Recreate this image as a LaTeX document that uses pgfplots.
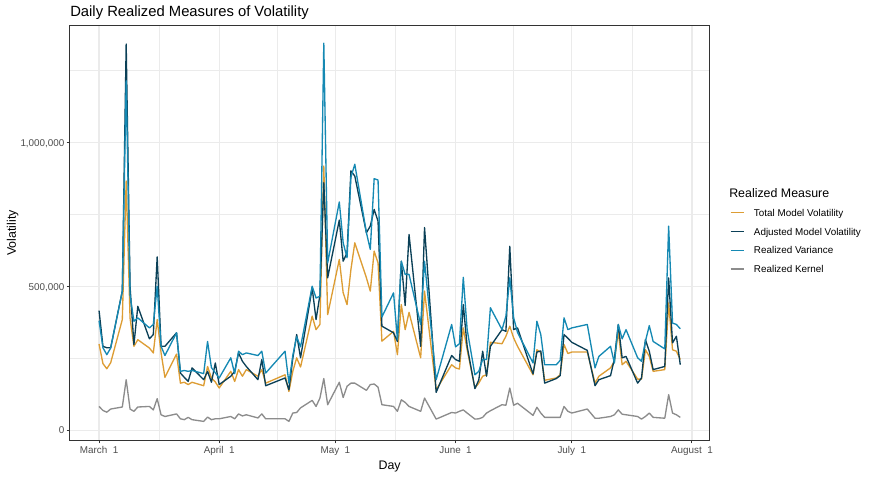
\documentclass[border=0pt]{standalone}
\usepackage{pgfplots}
\pgfplotsset{compat=1.18}
\usepackage{pgfplotstable}
\usepackage{fontspec}
\setmainfont{Liberation Sans}
\definecolor{totalc}{RGB}{221,157,52}
\definecolor{adjc}{RGB}{11,64,87}
\definecolor{rvc}{RGB}{21,137,179}
\definecolor{kc}{RGB}{140,140,140}
\definecolor{gtwenty}{RGB}{51,51,51}
\definecolor{gthirty}{RGB}{77,77,77}
\definecolor{gridc}{RGB}{235,235,235}

\pgfplotstableread{
d T A R K
0 300000 416000 381000 83000
1 232000 292000 287000 69000
2 214000 287000 263000 63000
3 235000 287000 286000 74000
6 385000 484000 484000 81000
7 867000 1343000 1215000 176000
8 390000 500000 470000 74000
9 292000 298000 379000 66000
10 315000 431000 391000 81000
13 286000 318000 356000 83000
14 269000 333000 368000 71000
15 385000 603000 501000 110000
16 270000 292000 292000 54000
17 184000 292000 260000 48000
20 265000 339000 339000 57000
21 164000 199000 205000 40000
22 167000 184000 208000 37000
23 159000 170000 205000 45000
24 167000 217000 208000 37000
27 155000 176000 197000 31000
28 222000 205000 309000 46000
29 182000 167000 218000 37000
30 168000 234000 200000 40000
31 147000 159000 182000 40000
34 205000 188000 252000 48000
35 170000 205000 197000 40000
36 211000 269000 275000 57000
37 188000 240000 263000 50000
38 211000 222000 269000 54000
41 188000 176000 260000 43000
42 211000 246000 275000 57000
43 164000 155000 199000 40000
48 193000 182000 275000 40000
49 135000 141000 164000 31000
50 205000 250000 260000 60000
51 252000 333000 325000 62000
52 220000 252000 290000 78000
55 397000 495000 501000 104000
56 350000 385000 460000 83000
57 368000 470000 466000 112000
58 919000 861000 1346000 180000
59 402000 530000 582000 89000
62 594000 731000 794000 167000
63 478000 588000 652000 114000
64 437000 617000 600000 153000
65 559000 902000 880000 164000
66 652000 884000 925000 164000
69 530000 687000 687000 139000
70 484000 710000 629000 159000
71 623000 768000 875000 161000
72 582000 727000 870000 150000
73 310000 362000 394000 89000
76 344000 339000 478000 83000
77 263000 309000 315000 66000
78 437000 588000 588000 106000
79 350000 434000 542000 97000
80 410000 681000 542000 83000
83 252000 292000 368000 66000
84 484000 705000 588000 112000
87 141000 132000 176000 39000
91 228000 260000 368000 62000
92 217000 246000 290000 60000
93 213000 240000 301000 66000
94 356000 437000 532000 71000
95 280000 292000 350000 60000
97 147000 145000 193000 39000
98 164000 175000 205000 40000
99 188000 275000 246000 45000
100 193000 188000 246000 60000
101 306000 292000 426000 68000
104 301000 350000 350000 89000
105 327000 344000 397000 87000
106 362000 640000 530000 147000
107 321000 350000 391000 87000
108 292000 356000 340000 94000
112 193000 196000 234000 52000
113 280000 272000 379000 80000
114 271000 276000 333000 60000
115 174000 164000 228000 45000
118 182000 180000 228000 45000
119 193000 190000 243000 45000
120 298000 333000 391000 83000
121 267000 320000 350000 66000
122 272000 306000 356000 60000
126 272000 278000 368000 74000
128 164000 155000 217000 42000
129 188000 176000 257000 42000
132 217000 190000 292000 48000
133 240000 248000 234000 54000
134 344000 368000 368000 71000
135 228000 252000 318000 56000
136 240000 257000 350000 54000
139 178000 164000 252000 48000
140 178000 182000 240000 39000
141 280000 315000 309000 48000
142 257000 275000 364000 60000
143 205000 211000 309000 45000
146 211000 222000 283000 42000
147 443000 530000 710000 124000
148 280000 304000 373000 60000
149 275000 327000 368000 54000
150 246000 228000 353000 45000
}\vol

\begin{document}
\begin{tikzpicture}
\path[use as bounding box] (0,0) rectangle (654pt,357pt);
\begin{axis}[
  at={(52.5pt,27pt)}, anchor=south west,
  scale only axis, width=479.5pt, height=310.9pt,
  xmin=-7.5, xmax=157.5, ymin=-33700, ymax=1407500,
  axis line style={draw=gtwenty, line width=0.75pt},
  xtick={0,31,61,92,122,153},
  xticklabels={March~~1,April~~1,May~~1,June~~1,July~~1,August~~1},
  minor xtick={15.5,46,76.5,107,137.5},
  ytick={0,500000,1000000},
  yticklabels={0,{500,000},{1,000,000}},
  minor ytick={250000,750000,1250000},
  scaled y ticks=false,
  grid=both,
  major grid style={draw=gridc, line width=0.9pt},
  minor grid style={draw=gridc, line width=0.45pt},
  tick align=outside,
  tick pos=left,
  major tick length=2.5pt,
  minor tick length=0pt,
  tick style={draw=gtwenty, line width=0.75pt},
  ticklabel style={font=\fontsize{7.4}{8.9}\selectfont, text=gthirty},
  xticklabel style={inner sep=0pt, text height=5.3pt, text depth=0pt, yshift=-2.4pt},
  yticklabel style={inner sep=0pt, text height=5.3pt, text depth=0pt, xshift=-1.5pt},
  legend style={at={(1.0323,0.5569)}, anchor=north west, draw=none, fill=none,
    inner sep=0pt, outer sep=0pt, font=\fontsize{7.4}{8.9}\selectfont,
    row sep=8.8pt, column sep=7pt,
    nodes={inner sep=0pt, text height=5.3pt, text depth=0pt}},
  legend cell align=left,
  legend image code/.code={\draw[#1] (0pt,0pt) -- (10pt,0pt);},
  every axis plot/.append style={line width=1pt, line join=round, no marks},
  after end axis/.code={\draw[gtwenty, line width=0.75pt] (rel axis cs:0,0) rectangle (rel axis cs:1,1);},
]
\addplot[totalc] table[x=d,y=T]{\vol};
\addlegendentry{Total Model Volatility}
\addplot[adjc] table[x=d,y=A]{\vol};
\addlegendentry{Adjusted Model Volatility}
\addplot[rvc] table[x=d,y=R]{\vol};
\addlegendentry{Realized Variance}
\addplot[kc] table[x=d,y=K]{\vol};
\addlegendentry{Realized Kernel}
\end{axis}
\node[anchor=base west, inner sep=0pt, font=\fontsize{11.1}{13}\selectfont] at (52.5pt,344.25pt) {Daily Realized Measures of Volatility};
\node[anchor=base, inner sep=0pt, font=\fontsize{9.3}{11}\selectfont] at (292.2pt,5.1pt) {Day};
\node[anchor=base, rotate=90, inner sep=0pt, font=\fontsize{9.3}{11}\selectfont] at (12pt,182.25pt) {Volatility};
\node[anchor=base west, inner sep=0pt, font=\fontsize{9.3}{11}\selectfont] at (546.75pt,208.7pt) {Realized Measure};
\end{tikzpicture}
\end{document}
